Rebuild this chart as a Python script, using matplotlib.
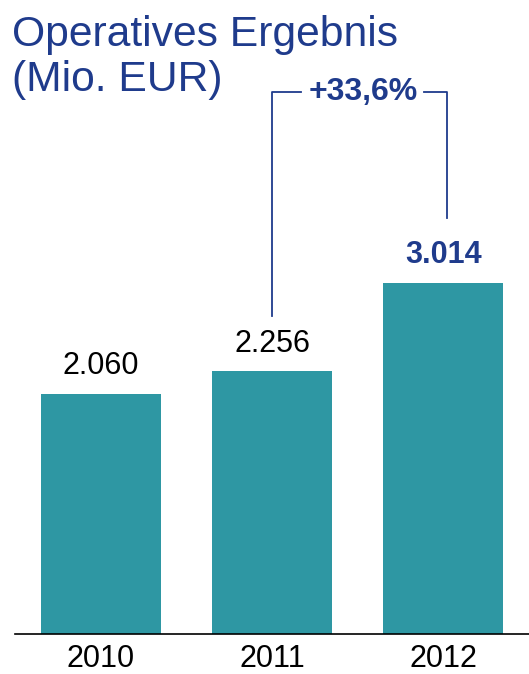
import matplotlib
matplotlib.use("Agg")
import matplotlib.pyplot as plt

years = ["2010", "2011", "2012"]
values = [2060, 2256, 3014]
value_labels = ["2.060", "2.256", "3.014"]
growth_label = "+33,6%"

BLUE = "#1f3b8c"
TEAL = "#2e97a3"

plt.rcParams['font.family'] = ['Liberation Sans', 'DejaVu Sans']

fig = plt.figure(figsize=(5.29, 6.74), dpi=100)
ax = fig.add_axes([15/529, 40/674, 514/529, 634/674])
x = range(len(years))
ax.bar(x, values, width=0.70, color=TEAL)
ax.set_xlim(-0.5, 2.5)
ax.set_ylim(0, 5440)
for s in ["top", "right", "left"]:
    ax.spines[s].set_visible(False)
ax.spines["bottom"].set_linewidth(1.2)
ax.set_yticks([])
ax.set_xticks(list(x))
ax.set_xticklabels(years, fontsize=22)
ax.tick_params(axis='x', length=0, pad=7)

for i, (v, lab) in enumerate(zip(values, value_labels)):
    last = i == len(values) - 1
    ax.annotate(lab, (i, v), xytext=(0, 9), textcoords="offset points",
                ha="center", va="bottom", fontsize=22,
                fontweight="bold" if last else "normal",
                color=BLUE if last else "black")

# growth bracket
top = 4650
ax.plot([1, 1, 1.17], [values[1] + 470, top, top], color=BLUE, lw=1.3, clip_on=False)
ax.plot([1.89, 2.02, 2.02], [top, top, values[2] + 555], color=BLUE, lw=1.3, clip_on=False)
ax.text(1.53, top, growth_label, ha="center", va="center", fontsize=23,
        fontweight="bold", color=BLUE)

fig.text(12/529, 1 - 35/674, "Operatives Ergebnis", fontsize=30.7, color=BLUE,
         ha="left", va="center")
fig.text(12/529, 1 - 80/674, "(Mio. EUR)", fontsize=30.7, color=BLUE,
         ha="left", va="center")

fig.savefig("out.png", dpi=100)
